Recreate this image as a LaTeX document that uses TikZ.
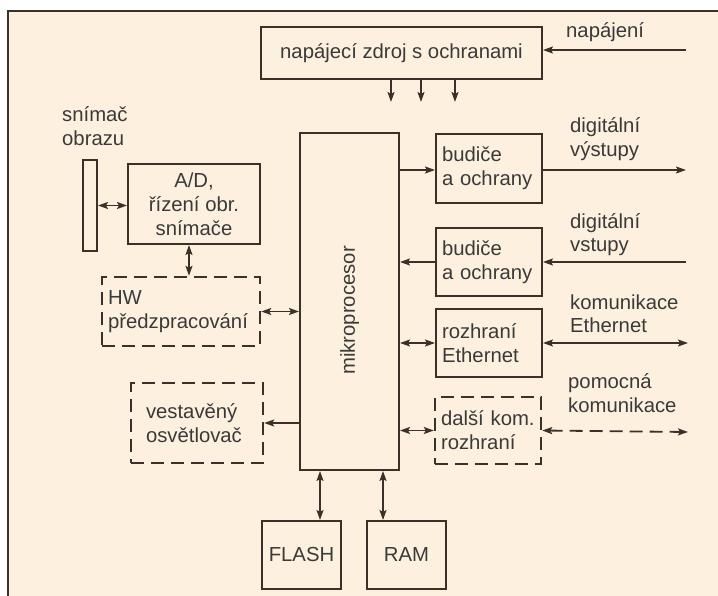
\documentclass[tikz,border=0pt]{standalone}
\usepackage{fontspec}
\setmainfont{Liberation Sans}
\usepackage{graphicx}
\usetikzlibrary{arrows.meta}
\definecolor{bg}{HTML}{FDF0DE}
\definecolor{ln}{HTML}{3A3129}
\definecolor{tx}{HTML}{3A3A3A}
\begin{document}
\begin{tikzpicture}[x=1pt,y=-1pt,
  every node/.style={font=\fontsize{20.3}{24}\selectfont, text=tx},
  box/.style={draw=ln, line width=2pt, inner sep=0pt},
  dbox/.style={box, dash pattern=on 13pt off 7pt, line width=2.4pt},
  tip/.tip={Stealth[length=10pt,width=7pt,inset=2pt]},
  arr/.style={draw=ln, line width=1.8pt, -tip},
  darr/.style={draw=ln, line width=1.8pt, tip-tip},
  lab/.style={anchor=base west, align=left, inner sep=0pt}
]
\useasboundingbox (0,0) rectangle (718,596);
\fill[white] (0,0) rectangle (718,596);
\fill[bg] (8,11) rectangle (718,596);
\draw[ln, line width=2pt] (8,596) -- (8,11) -- (718,11);

% boxes
\node[box, minimum width=281pt, minimum height=52pt] (psu) at (401.5,53) {napájecí zdroj s ochranami};
\node[box, minimum width=99pt, minimum height=337pt] (micro) at (349.5,301.5) {\rotatebox{90}{mikroprocesor\hspace*{18pt}}};
\node[box, text width=94pt, align=left, inner xsep=6pt, minimum height=69pt] (budA) at (489,168.5) {budiče\\a ochrany};
\node[box, text width=94pt, align=left, inner xsep=6pt, minimum height=68pt] (budB) at (489,262) {budiče\\a ochrany};
\node[box, text width=94pt, align=left, inner xsep=6pt, minimum height=68pt] (eth) at (489,343) {rozhraní\\Ethernet};
\node[dbox, text width=94pt, align=left, inner xsep=6pt, minimum height=67pt] (dal) at (488,430.5) {další kom.\\rozhraní};
\node[box, minimum width=79pt, minimum height=68pt] (flash) at (301.5,555) {FLASH};
\node[box, minimum width=79pt, minimum height=68pt] (ram) at (406.5,555) {RAM};
\node[dbox, text width=102pt, align=left, inner xsep=15pt, minimum height=80pt] (vest) at (197,423) {vestavěný\\osvětlovač};
\node[dbox, text width=146pt, align=left, inner xsep=6pt, minimum height=69pt] (hw) at (181,311.5) {HW\\předzpracování};
\node[box, minimum width=132pt, minimum height=80pt, align=center] (ad) at (194,204) {A/D,\\řízení obr.\\snímače};
\node[box, minimum width=14pt, minimum height=91pt] (sen) at (90,205.5) {};

% labels (anchor at baseline of last line)
\node[lab] (lpow) at (566,38) {napájení};
\node[lab] (ldo) at (570,157) {digitální\\výstupy};
\node[lab] (ldi) at (570,252) {digitální\\vstupy};
\node[lab] (leth) at (570,333) {komunikace\\Ethernet};
\node[lab] (lpom) at (568,412) {pomocná\\komunikace};
\node[lab] (lsen) at (62,146) {snímač\\obrazu};

% free ends
\coordinate (pin) at (686,50);
\coordinate (dout) at (686,170);
\coordinate (din) at (686,262);
\coordinate (eout) at (688,343);
\coordinate (pout) at (688,432);
\coordinate (p1) at (391,102);
\coordinate (p2) at (421,102);
\coordinate (p3) at (455,102);
\coordinate (adh) at ([xshift=-5pt]ad.south);
\coordinate (flh) at ([xshift=18.5pt]flash.north);
\coordinate (rah) at ([xshift=-23.5pt]ram.north);

% connectors
\draw[arr] (pin) -- (pin -| psu.east);
\foreach \p in {p1,p2,p3} \draw[arr] (psu.south -| \p) -- (\p);
\draw[arr] (micro.east |- dout) -- (budA.west |- dout);
\draw[arr] (budA.east |- dout) -- (dout);
\draw[arr] (din) -- (din -| budB.east);
\draw[arr] (budB.west) -- (budB.west -| micro.east);
\draw[darr] (eth.west) -- (eth.west -| micro.east);
\draw[darr] (eth.east) -- (eout);
\draw[darr] (dal.west) -- (dal.west -| micro.east);
\draw[darr, dash pattern=on 13pt off 7pt] (dal.east) -- (pout);
\draw[arr] (micro.west |- vest.east) -- (vest.east);
\draw[darr] (hw.east) -- (hw.east -| micro.west);
\draw[darr] (adh) -- (adh |- hw.north);
\draw[darr] (sen.east) -- (sen.east -| ad.west);
\draw[darr] (flh) -- (flh |- micro.south);
\draw[darr] (rah) -- (rah |- micro.south);
\end{tikzpicture}
\end{document}
